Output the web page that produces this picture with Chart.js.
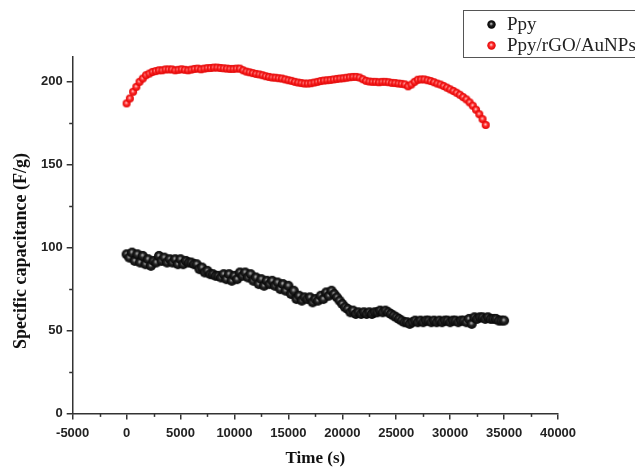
<!DOCTYPE html>
<html>
<head>
<meta charset="utf-8">
<script src="https://cdn.jsdelivr.net/npm/chart.js@4/dist/chart.umd.min.js"></script>
<style>
  html, body { margin: 0; padding: 0; background: #fff; }
  #wrap { width: 635px; height: 469px; }
</style>
</head>
<body>
<div id="wrap"><canvas id="c" width="635" height="469"></canvas></div>
<script>
// ---- Data ----
const seriesNames = ["Ppy", "Ppy/rGO/AuNPs"];

const ppyTime = [0,250,500,750,1000,1250,1500,1750,2000,2250,2500,2750,3000,3250,3500,3750,4000,4250,4500,4750,
  5000,5250,5500,5750,6000,6250,6500,6750,7000,7250,7500,7750,8000,8250,8500,8750,9000,9250,9500,9750,
  10000,10250,10500,10750,11000,11250,11500,11750,12000,12250,12500,12750,13000,13250,13500,13750,14000,14250,14500,14750,
  15000,15250,15500,15750,16000,16250,16500,16750,17000,17250,17500,17750,18000,18250,18500,18750,19000,19250,19500,19750,
  20000,20250,20500,20750,21000,21250,21500,21750,22000,22250,22500,22750,23000,23250,23500,23750,24000,24250,24500,24750,
  25000,25250,25500,25750,26000,26250,26500,26750,27000,27250,27500,27750,28000,28250,28500,28750,29000,29250,29500,29750,
  30000,30250,30500,30750,31000,31250,31500,31750,32000,32250,32500,32750,33000,33250,33500,33750,34000,34250,34500,34750,35000];
const ppyCap = [96,94,97,92,96,91,95,90,93,89,92,91,95,92,94,91,93,91,93,90,
  93,90,92,91,91,90,90,87,88,85,86,84,84,83,83,82,84,81,84,80,
  83,81,85,83,85,82,84,80,82,78,81,77,80,78,80,77,79,75,78,74,
  77,72,74,69,71,68,70,69,70,67,69,68,71,69,73,71,74,72,70,68,
  66,64,63,61,62,60,61,60,61,60,61,60,61,61,62,61,62,61,60,59,
  58,57,56,55,55,54,55,56,55,56,55,56,56,55,56,55,56,55,56,56,
  55,56,56,55,56,56,55,57,54,58,57,58,58,57,58,57,57,57,56,56,56];

const compTime = [0,300,600,900,1200,1500,1800,2100,2400,2700,3000,3300,3600,3900,4200,4500,4800,5100,5400,5700,
  6000,6300,6600,6900,7200,7500,7800,8100,8400,8700,9000,9300,9600,9900,10200,10500,10800,11100,11400,11700,
  12000,12300,12600,12900,13200,13500,13800,14100,14400,14700,15000,15300,15600,15900,16200,16500,16800,17100,17400,17700,
  18000,18300,18600,18900,19200,19500,19800,20100,20400,20700,21000,21300,21600,21900,22200,22500,22800,23100,23400,23700,
  24000,24300,24600,24900,25200,25500,25800,26100,26400,26700,27000,27300,27600,27900,28200,28500,28800,29100,29400,29700,
  30000,30300,30600,30900,31200,31500,31800,32100,32400,32700,33000,33300];
const compCap = [187,190,194,197,200,202,204,205,206,206.5,207,207,207.5,207.5,207.5,207,207.3,207.6,207.3,207,
  207.4,207.8,208,207.6,208,208.3,208.4,208.6,208.6,208.4,208.2,208,207.8,207.8,208,208,207,206.2,205.8,205.3,
  204.8,204.5,204,203.4,203,202.6,202.5,202.2,202,201.5,201,200.6,200,199.6,199.3,199,199,199.2,199.6,200,
  200.5,200.8,201,201.2,201.5,201.8,202,202.2,202.5,202.8,203,203,202.6,201.6,200.6,200.2,200,200,199.8,200,
  200,199.8,199.4,199.3,199,198.8,198.5,197.3,198.4,200,201.3,201.5,201.5,201,200.5,199.8,199,198.4,197.5,196.5,
  195.5,194.5,193.4,192.2,190.8,189.4,187.6,185.6,183.2,180.5,177.5,174];

const xTickLabels = ["-5000","0","5000","10000","15000","20000","25000","30000","35000","40000"];
const yTickLabels = ["0","50","100","150","200"];
const xTitle = "Time (s)";
const yTitle = "Specific capacitance (F/g)";

// ---- Styles ----
function sphere(r, c0, c1, c2) {
  const s = Math.ceil(r * 2 + 2);
  const cv = document.createElement('canvas');
  cv.width = s; cv.height = s;
  const g = cv.getContext('2d');
  const cx = s / 2, cy = s / 2;
  const grad = g.createRadialGradient(cx - r * 0.1, cy - r * 0.2, 0, cx, cy, r);
  grad.addColorStop(0, c0);
  grad.addColorStop(0.45, c1);
  grad.addColorStop(1, c2);
  g.fillStyle = grad;
  g.beginPath(); g.arc(cx, cy, r, 0, Math.PI * 2); g.fill();
  return cv;
}
const blackDot = sphere(5.0, '#c0c0c0', '#262626', '#050505');
const redDot = sphere(4.0, '#ffe0e0', '#ff3030', '#e00000');
const blackLegend = sphere(4.2, '#d0d0d0', '#202020', '#000');
const redLegend = sphere(4.2, '#ffe0e0', '#ff3030', '#e00000');

const axisColor = '#333';
const tickFont = { family: 'Liberation Sans, Arial, sans-serif', size: 13, weight: 'bold' };

const minorTicks = {
  id: 'minorTicks',
  afterDraw(chart) {
    const ctx = chart.ctx;
    ctx.save();
    ctx.strokeStyle = axisColor;
    ctx.lineWidth = 1.5;
    const xs = chart.scales.x, ys = chart.scales.y;
    xs.ticks.forEach(t => {
      if (t.value % 5000 !== 0) {
        const px = Math.round(xs.getPixelForValue(t.value)) + 0.5;
        ctx.beginPath(); ctx.moveTo(px, ys.bottom); ctx.lineTo(px, ys.bottom + 3.5); ctx.stroke();
      }
    });
    ys.ticks.forEach(t => {
      if (t.value % 50 !== 0) {
        const py = Math.round(ys.getPixelForValue(t.value)) + 0.5;
        ctx.beginPath(); ctx.moveTo(xs.left, py); ctx.lineTo(xs.left - 3.5, py); ctx.stroke();
      }
    });
    ctx.restore();
  }
};

const yTitlePlugin = {
  id: 'yTitlePlugin',
  afterDraw(chart) {
    const ctx = chart.ctx;
    ctx.save();
    ctx.translate(21, 251);
    ctx.rotate(-Math.PI / 2);
    ctx.font = 'bold 18px "Liberation Serif", "Times New Roman", serif';
    ctx.fillStyle = '#111';
    ctx.textAlign = 'center';
    ctx.textBaseline = 'middle';
    ctx.fillText(yTitle, 0, 0);
    ctx.restore();
  }
};

const boxLegend = {
  id: 'boxLegend',
  afterDraw(chart) {
    const ctx = chart.ctx;
    ctx.save();
    ctx.strokeStyle = '#555';
    ctx.lineWidth = 1;
    ctx.strokeRect(463.5, 10.5, 200, 47);
    const icons = [blackLegend, redLegend];
    const ys = [24.5, 45.5];
    ctx.font = '19px "Liberation Serif", "Times New Roman", serif';
    ctx.fillStyle = '#222';
    ctx.textBaseline = 'middle';
    ctx.textAlign = 'left';
    chart.data.datasets.forEach((ds, i) => {
      const ic = icons[i];
      ctx.drawImage(ic, 491.5 - ic.width / 2, ys[i] - ic.height / 2);
      ctx.fillText(ds.label, 507, ys[i] + 1);
    });
    ctx.restore();
  }
};

new Chart(document.getElementById('c'), {
  type: 'scatter',
  data: {
    datasets: [
      {
        label: seriesNames[0],
        data: ppyTime.map((t, i) => ({ x: t, y: ppyCap[i] })),
        pointStyle: blackDot,
        pointRadius: 5,
        showLine: false
      },
      {
        label: seriesNames[1],
        data: compTime.map((t, i) => ({ x: t, y: compCap[i] })),
        pointStyle: redDot,
        pointRadius: 4,
        showLine: false
      }
    ]
  },
  options: {
    responsive: false,
    animation: false,
    devicePixelRatio: 1,
    layout: { padding: { left: 37, top: 57, right: 77, bottom: 1 } },
    plugins: { legend: { display: false }, tooltip: { enabled: false } },
    scales: {
      x: {
        type: 'linear',
        min: -5000, max: 40000,
        border: { display: true, color: axisColor, width: 1.5 },
        grid: {
          drawOnChartArea: false, drawTicks: true, tickLength: 6, lineWidth: 1.5,
          color: c => (c.tick && c.tick.value % 5000 === 0) ? axisColor : 'rgba(0,0,0,0)'
        },
        ticks: {
          stepSize: 2500, includeBounds: false, autoSkip: false, maxRotation: 0,
          padding: 6, color: '#222', font: tickFont,
          callback: v => (v % 5000 === 0) ? xTickLabels[(v + 5000) / 5000] : ''
        },
        title: {
          display: true, text: xTitle, color: '#111',
          font: { family: 'Liberation Serif, Times New Roman, serif', size: 17, weight: 'bold', lineHeight: 1.0 },
          padding: { top: 3, bottom: 1 }
        }
      },
      y: {
        min: 0, max: 215,
        border: { display: true, color: axisColor, width: 1.5 },
        grid: {
          drawOnChartArea: false, drawTicks: true, tickLength: 6, lineWidth: 1.5,
          color: c => (c.tick && c.tick.value % 50 === 0) ? axisColor : 'rgba(0,0,0,0)'
        },
        ticks: {
          stepSize: 25, includeBounds: false, autoSkip: false,
          padding: 4, color: '#222', font: tickFont,
          callback: v => (v % 50 === 0) ? yTickLabels[v / 50] : ''
        },
        title: { display: false }
      }
    }
  },
  plugins: [minorTicks, yTitlePlugin, boxLegend]
});
</script>
</body>
</html>
